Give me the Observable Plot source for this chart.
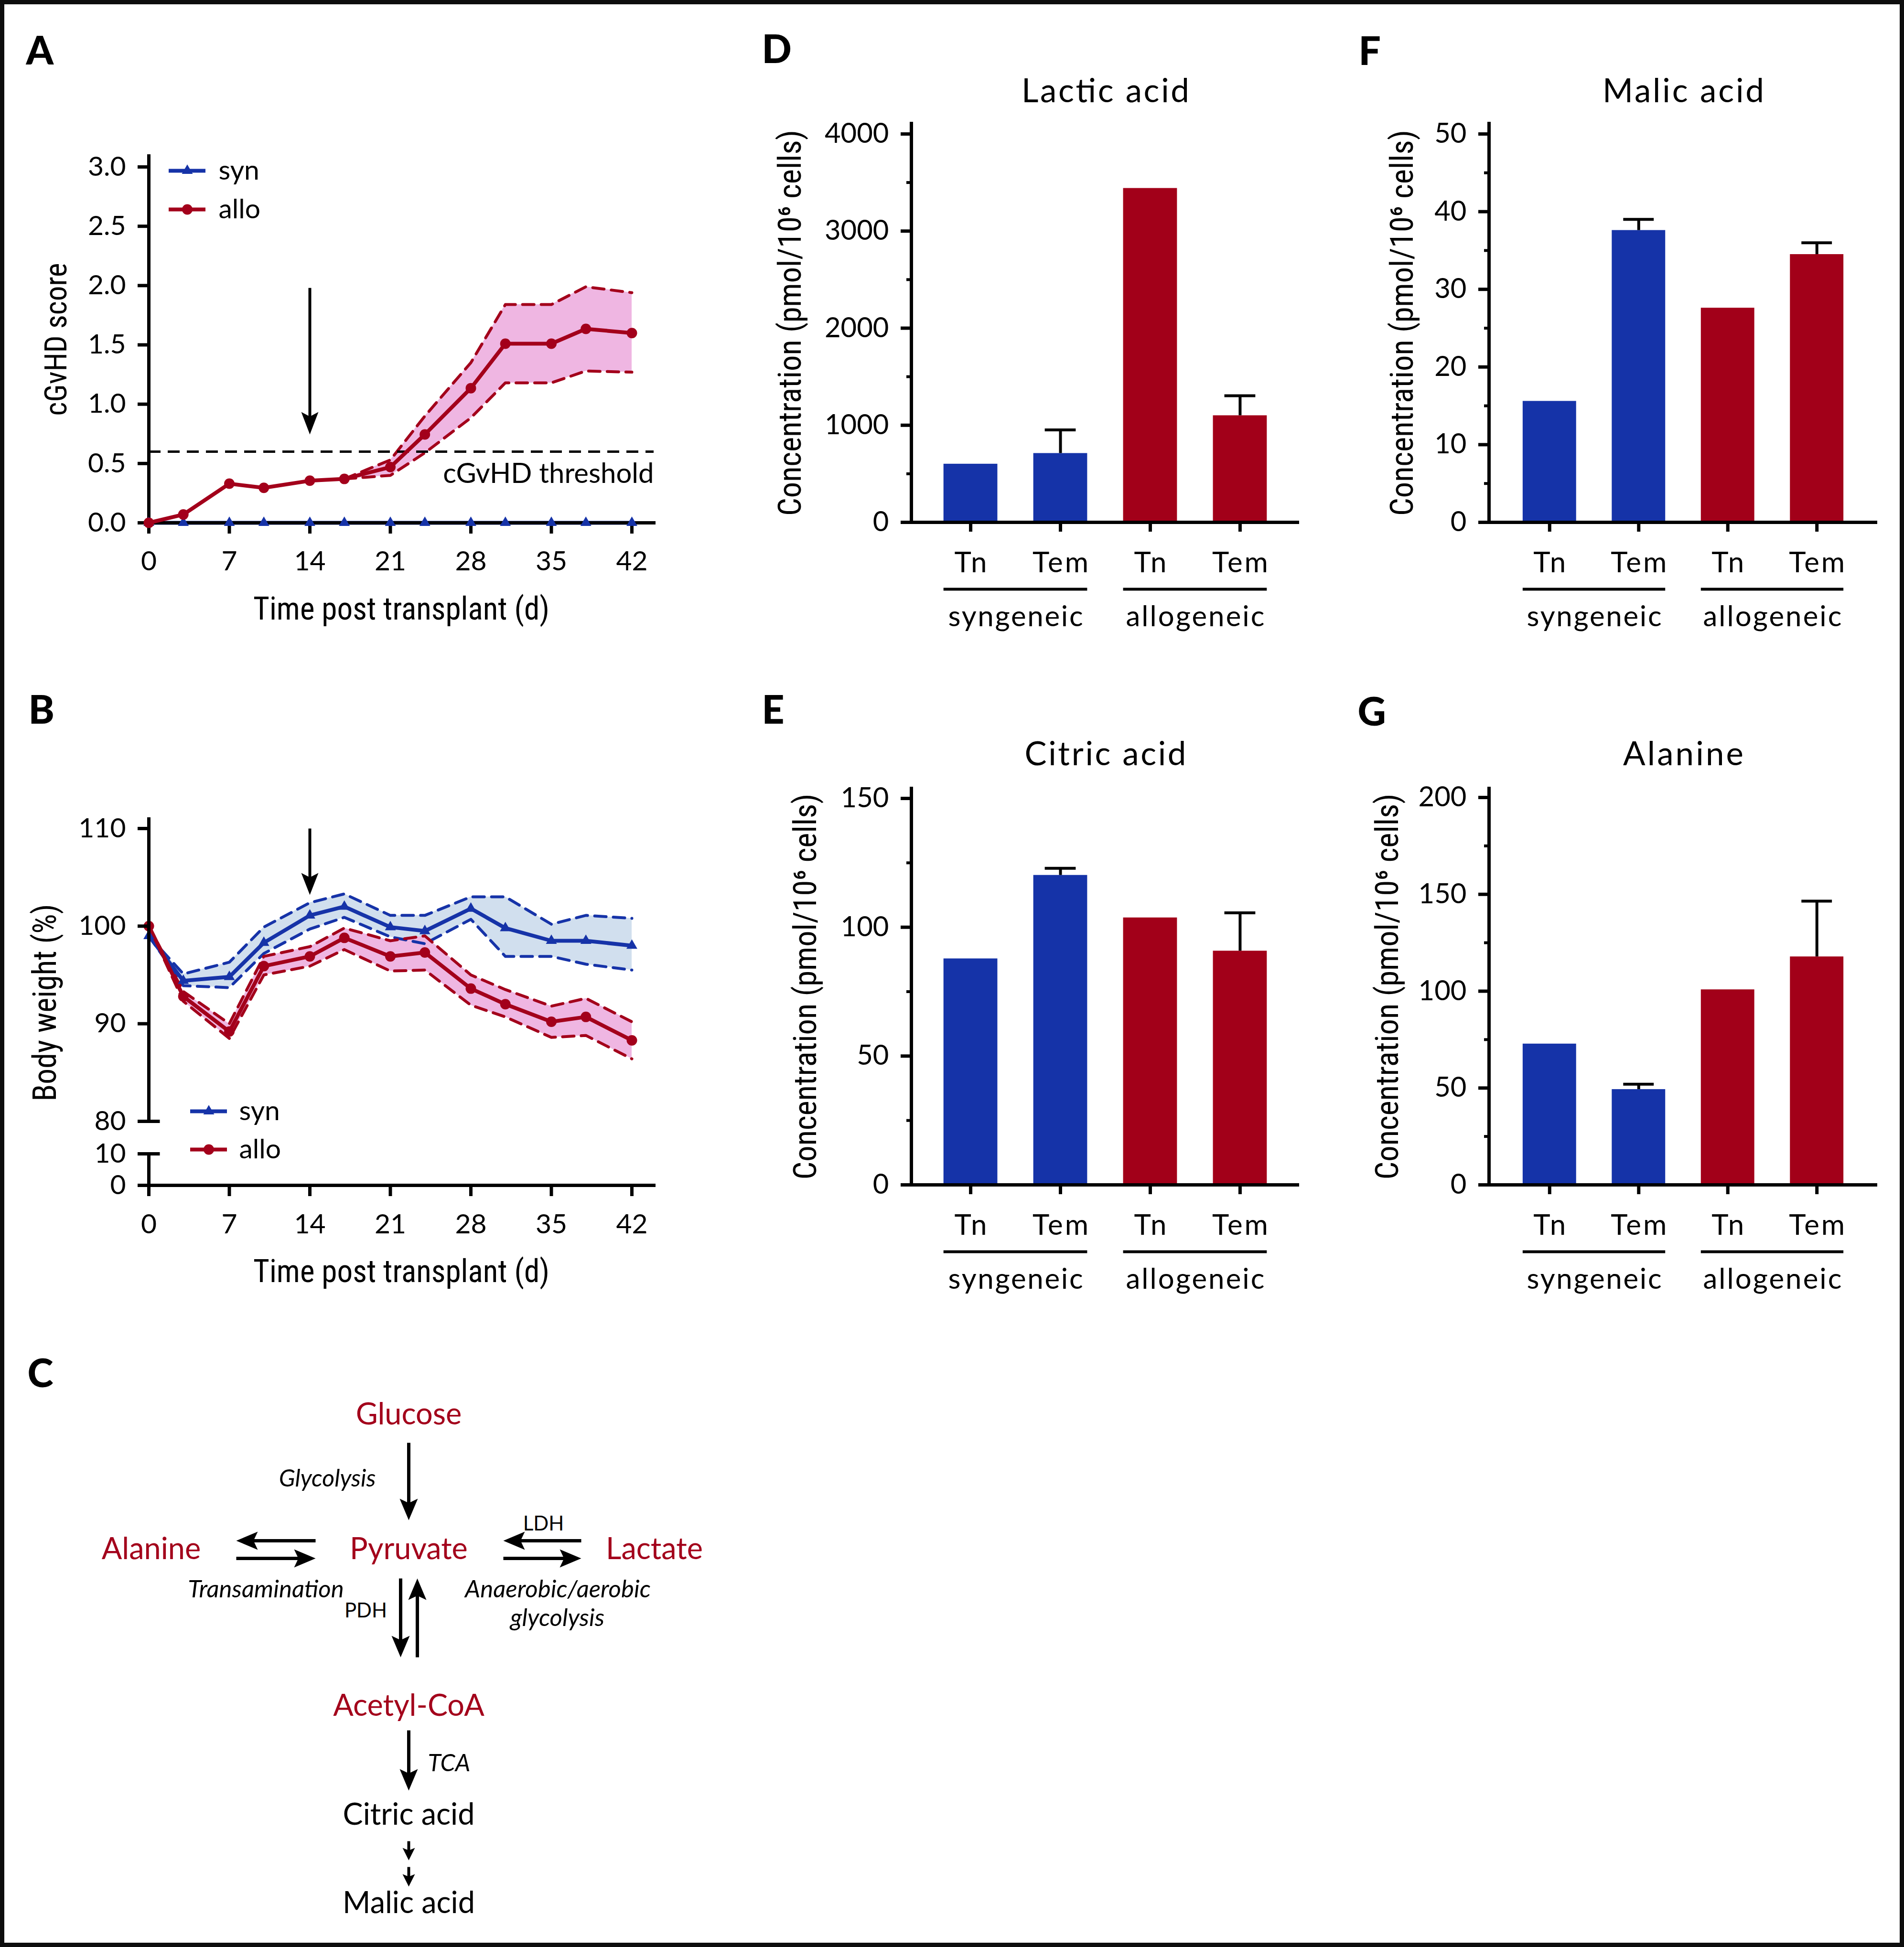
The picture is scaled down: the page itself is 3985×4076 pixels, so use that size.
<!DOCTYPE html>
<html>
<head>
<meta charset="utf-8">
<script src="https://cdn.jsdelivr.net/npm/d3@7"></script>
<script src="https://cdn.jsdelivr.net/npm/@observablehq/plot@0.6"></script>
<style>
html,body{margin:0;padding:0;background:#fff;}
#page{position:relative;width:3985px;height:4076px;overflow:hidden;background:#fff;}
#border{position:absolute;left:0;top:0;width:3985px;height:4076px;box-sizing:border-box;border:9px solid #0d0d0d;pointer-events:none;}
</style>
</head>
<body>
<div id="page"></div>
<script>
// ---------------- DATA ----------------
const days = [0, 3, 7, 10, 14, 17, 21, 24, 28, 31, 35, 38, 42];
const dayTicks = [0, 7, 14, 21, 28, 35, 42];

// Panel A: cGvHD score
const scoreSyn    = [0, 0, 0, 0, 0, 0, 0, 0, 0, 0, 0, 0, 0];
const scoreAllo   = [0, 0.07, 0.33, 0.295, 0.355, 0.37, 0.47, 0.745, 1.135, 1.51, 1.51, 1.635, 1.60];
const scoreAlloLo = [null, null, null, null, null, 0.37, 0.40, 0.59, 0.885, 1.18, 1.18, 1.28, 1.27];
const scoreAlloHi = [null, null, null, null, null, 0.37, 0.53, 0.90, 1.35, 1.84, 1.84, 1.99, 1.94];
const scoreTicks = [0, 0.5, 1, 1.5, 2, 2.5, 3];
const scoreThreshold = [{value: 0.6, label: "cGvHD threshold"}];
const scoreArrow = [{day: 14, from: 1.98, to: 0.745}];

// Panel B: body weight
const weightSyn    = [99.0, 94.4, 94.8, 98.3, 101.1, 102.0, 99.9, 99.5, 101.8, 99.8, 98.5, 98.5, 98.0];
const weightSynLo  = [99.0, 93.9, 93.7, 97.2, 99.7, 100.9, 98.9, 98.2, 100.7, 96.9, 96.9, 96.1, 95.5];
const weightSynHi  = [99.0, 95.1, 96.3, 99.9, 102.4, 103.3, 101.1, 101.1, 103.0, 103.0, 100.2, 101.1, 100.8];
const weightAllo   = [100, 92.8, 89.2, 95.9, 96.9, 98.8, 96.9, 97.3, 93.6, 92.0, 90.2, 90.7, 88.3];
const weightAlloLo = [100, 92.3, 88.5, 95.0, 95.9, 97.6, 95.4, 95.5, 91.9, 90.7, 88.6, 88.8, 86.4];
const weightAlloHi = [100, 93.3, 90.0, 96.9, 97.9, 99.8, 98.5, 99.0, 95.0, 93.5, 91.8, 92.6, 90.2];
const weightTicks = [0, 10, 80, 90, 100, 110];
const weightUpperDomain = [80, 110];   // broken axis: upper segment
const weightLowerDomain = [0, 10];     // broken axis: lower segment
const weightArrow = [{day: 14, from: 110, to: 103.2}];

const legendItems = [{label: "syn"}, {label: "allo"}];

// Panels D-G: metabolite concentrations
const cellTypes = ["Tn", "Tem", "Tn", "Tem"];
const groups = ["syngeneic", "syngeneic", "allogeneic", "allogeneic"];
const groupNames = ["syngeneic", "allogeneic"];
const lacticMean  = [601, 711, 3441, 1100];
const lacticSem   = [0, 241, 0, 204];
const citricMean  = [87.8, 120.2, 103.7, 90.8];
const citricSem   = [0, 2.7, 0, 14.8];
const malicMean   = [15.6, 37.6, 27.6, 34.5];
const malicSem    = [0, 1.4, 0, 1.5];
const alanineMean = [72.8, 49.3, 100.8, 117.8];
const alanineSem  = [0, 2.7, 0, 28.7];
const lacticTicks = [0, 1000, 2000, 3000, 4000], lacticMinor = [500, 1500, 2500, 3500];
const citricTicks = [0, 50, 100, 150], citricMinor = [25, 75, 125];
const malicTicks = [0, 10, 20, 30, 40, 50], malicMinor = [5, 15, 25, 35, 45];
const alanineTicks = [0, 50, 100, 150, 200], alanineMinor = [25, 75, 125, 175];
const concLabel = "Concentration (pmol/10\u2076 cells)";

// Panel C: pathway
const pathwayNodes = ["Glucose", "Alanine", "Pyruvate", "Lactate", "Acetyl-CoA", "Citric acid", "Malic acid"];
const highlightedNodes = ["Glucose", "Alanine", "Pyruvate", "Lactate", "Acetyl-CoA"];
const pathwayLabels = [
  {text: "Glycolysis", style: "italic"},
  {text: "LDH", style: "normal"},
  {text: "Transamination", style: "italic"},
  {text: "Anaerobic/aerobic", style: "italic"},
  {text: "glycolysis", style: "italic"},
  {text: "PDH", style: "normal"},
  {text: "TCA", style: "italic"}
];
const pathwayArrows = [
  {name: "glycolysis", dir: "down", size: "L"},
  {name: "toAlanine", dir: "left", size: "L"},
  {name: "fromAlanine", dir: "right", size: "L"},
  {name: "fromLactate", dir: "left", size: "L"},
  {name: "toLactate", dir: "right", size: "L"},
  {name: "pdh", dir: "down", size: "L"},
  {name: "reverse", dir: "up", size: "L"},
  {name: "tca", dir: "down", size: "L"},
  {name: "step1", dir: "down", size: "S"},
  {name: "step2", dir: "down", size: "S"}
];

// ---------------- LAYOUT / STYLE ----------------
const W = 3985, H = 4076;
const red = "#a3001b", blue = "#1633a8", pink = "#efb6e2", lightBlue = "#d1dfee";
const barBlue = "#1533a8", barRed = "#a20019";
const mainFont = "Lato, 'Noto Sans', sans-serif";
const condFont = "'Roboto Condensed','Liberation Sans Narrow','DejaVu Sans Condensed',Roboto,sans-serif";
const baseStyle = {background: "transparent", overflow: "visible", fontFamily: mainFont, maxWidth: "none"};
const dash = "24,15";
// text widths measured on the reference (condensed = squeezed glyphs, spaced = letter spacing)
const condensed = {
  "cGvHD score": 320,
  "Time post transplant (d)": 620,
  "Body weight (%)": 413,
  [concLabel]: 808
};
const spaced = {
  "Lactic acid": 351, "Malic acid": 338, "Citric acid": 338, "Alanine": 252,
  "syngeneic": 282, "allogeneic": 290, "Tn": 68, "Tem": 117
};
// diagram positions (pixels inside panel C)
const nodePos = {
  "Glucose": [855, 161], "Alanine": [316, 443], "Pyruvate": [855, 443], "Lactate": [1369, 443],
  "Acetyl-CoA": [855, 771], "Citric acid": [855, 999], "Malic acid": [855, 1184]
};
const labelPos = {
  "Glycolysis": [786, 295, "end", 50], "LDH": [1137, 390, "middle", 42],
  "Transamination": [556, 527, "middle", 51], "Anaerobic/aerobic": [1167, 527, "middle", 51],
  "glycolysis": [1166, 587, "middle", 51], "PDH": [765, 572, "middle", 42], "TCA": [895, 891, "start", 50]
};
const arrowPos = {
  glycolysis: [855, 220, 855, 382], toAlanine: [660, 425, 494, 425], fromAlanine: [494, 462, 660, 462],
  fromLactate: [1216, 425, 1053, 425], toLactate: [1053, 462, 1216, 462],
  pdh: [838, 504, 838, 669], reverse: [873, 669, 873, 504], tca: [855, 822, 855, 948],
  step1: [855, 1054, 855, 1094], step2: [855, 1108, 855, 1149]
};
const headSize = {L: {len: 45, wid: 38, shaft: 7}, S: {len: 26, wid: 26, shaft: 6}};

// ---------------- HELPERS ----------------
const page = document.getElementById("page");
function add(svg, fitSpaced = false) {
  svg.style.position = "absolute"; svg.style.left = "0px"; svg.style.top = "0px";
  d3.select(svg).selectAll("text").each(function () {
    const t = this.textContent;
    if (condensed[t]) { this.setAttribute("textLength", condensed[t]); this.setAttribute("lengthAdjust", "spacingAndGlyphs"); }
    else if (fitSpaced && spaced[t]) { this.setAttribute("textLength", spaced[t]); this.setAttribute("lengthAdjust", "spacing"); }
  });
  page.appendChild(svg);
}
function headSymbol(dir, len, wid) {
  const n = 0.8;
  const pts = [[0, 0], [-wid / 2, -len], [0, -len * n], [wid / 2, -len]];
  const rot = {down: p => p, up: ([x, y]) => [x, -y], right: ([x, y]) => [y, x], left: ([x, y]) => [-y, x]}[dir];
  const P = pts.map(rot);
  return {draw(ctx) { ctx.moveTo(P[0][0], P[0][1]); for (let i = 1; i < P.length; i++) ctx.lineTo(P[i][0], P[i][1]); ctx.closePath(); }};
}
const breakTick = {draw(ctx) { ctx.moveTo(-23, 0); ctx.lineTo(23, 0); }};
function letterMark(letter, x, y, frameLeft, frameTop) {
  return Plot.text([letter], {text: d => d, frameAnchor: "top-left", dx: x - frameLeft, dy: y - frameTop,
    textAnchor: "start", lineAnchor: "top", fontSize: 82, fontWeight: 900, fontFamily: mainFont});
}
function yTitle(text, dx, size, dy = 0) {
  return Plot.text([text], {text: d => d, frameAnchor: "left", dx, dy, rotate: -90, textAnchor: "middle",
    lineAnchor: "middle", fontSize: size, fontFamily: condFont});
}
function legend(x0, x1, ys, textDx) {
  return Plot.plot({
    width: W, height: H, margin: 0, style: baseStyle,
    x: {domain: [0, 1], range: [x0, x1], axis: null},
    y: {type: "point", padding: 0, domain: legendItems.map(d => d.label), range: ys, axis: null},
    color: {domain: ["syn", "allo"], range: [blue, red]},
    marks: [
      Plot.ruleY(legendItems, {y: "label", x1: 0, x2: 1, stroke: "label", strokeWidth: 8}),
      Plot.dot(legendItems.filter(d => d.label === "syn"), {x: 0.5, y: "label", symbol: "triangle", fill: "label", r: 8.5}),
      Plot.dot(legendItems.filter(d => d.label === "allo"), {x: 0.5, y: "label", fill: "label", r: 11}),
      Plot.text(legendItems, {x: 1, y: "label", text: "label", dx: textDx, textAnchor: "start", lineAnchor: "middle", fontSize: 57})
    ]
  });
}

// ---------------- PANEL A ----------------
const scoreRows = days.map((day, i) => ({day, syn: scoreSyn[i], allo: scoreAllo[i], lo: scoreAlloLo[i], hi: scoreAlloHi[i]}));
add(Plot.plot({
  width: W, height: H, marginLeft: 311, marginRight: W - 1368, marginTop: 326, marginBottom: H - 1094,
  style: baseStyle,
  x: {domain: [0, 42], insetRight: 46, axis: null},
  y: {domain: [0, 3], insetTop: 23, axis: null},
  marks: [
    Plot.areaY(scoreRows, {x: "day", y1: "lo", y2: "hi", fill: pink}),
    Plot.lineY(scoreRows, {x: "day", y: "lo", stroke: red, strokeWidth: 6, strokeDasharray: dash}),
    Plot.lineY(scoreRows, {x: "day", y: "hi", stroke: red, strokeWidth: 6, strokeDasharray: dash}),
    Plot.ruleY(scoreThreshold, {y: "value", stroke: "black", strokeWidth: 5, strokeDasharray: "25,15"}),
    Plot.text(scoreThreshold, {y: "value", text: "label", frameAnchor: "right", textAnchor: "end", lineAnchor: "top", dy: 24, fontSize: 58}),
    Plot.lineY(scoreRows, {x: "day", y: "syn", stroke: blue, strokeWidth: 8}),
    Plot.frame({anchor: "left", strokeWidth: 7}),
    Plot.frame({anchor: "bottom", strokeWidth: 7}),
    Plot.axisY({ticks: scoreTicks, tickFormat: d3.format(".1f"), tickSize: 23, tickPadding: 25, fontSize: 57, strokeWidth: 7, label: null}),
    Plot.axisX({ticks: dayTicks, tickSize: 23, tickPadding: 36, fontSize: 57, strokeWidth: 7, label: null}),
    Plot.dot(scoreRows, {x: "day", y: "syn", symbol: "triangle", fill: blue, r: 8.5}),
    Plot.lineY(scoreRows, {x: "day", y: "allo", stroke: red, strokeWidth: 8}),
    Plot.dot(scoreRows, {x: "day", y: "allo", fill: red, r: 11}),
    Plot.arrow(scoreArrow, {x1: "day", x2: "day", y1: "from", y2: "to", headLength: 0, insetEnd: 24, strokeWidth: 6, strokeLinecap: "butt"}),
    Plot.dot(scoreArrow, {x: "day", y: "to", symbol: headSymbol("down", 47, 36), fill: "black"}),
    Plot.text(["Time post transplant (d)"], {text: d => d, frameAnchor: "bottom", textAnchor: "middle", dy: 181, lineAnchor: "middle", fontSize: 66, fontFamily: condFont}),
    yTitle("cGvHD score", 118 - 311, 64),
    letterMark("A", 54, 76, 311, 326)
  ]
}));
add(legend(353, 430, [357, 438], 27));

// ---------------- PANEL B (broken y axis: two stacked plots) ----------------
const weightRows = days.map((day, i) => ({day, syn: weightSyn[i], synLo: weightSynLo[i], synHi: weightSynHi[i],
  allo: weightAllo[i], alloLo: weightAlloLo[i], alloHi: weightAlloHi[i]}));
const inDomain = (dom) => (v) => v >= dom[0] && v <= dom[1];
// upper segment (80-110): data
add(Plot.plot({
  width: W, height: H, marginLeft: 311, marginRight: W - 1368, marginTop: 1714, marginBottom: H - 2347,
  style: baseStyle,
  x: {domain: [0, 42], insetRight: 46, axis: null},
  y: {domain: weightUpperDomain, insetTop: 20, axis: null},
  marks: [
    Plot.areaY(weightRows, {x: "day", y1: "synLo", y2: "synHi", fill: lightBlue}),
    Plot.areaY(weightRows, {x: "day", y1: "alloLo", y2: "alloHi", fill: pink}),
    Plot.lineY(weightRows, {x: "day", y: "synLo", stroke: blue, strokeWidth: 6, strokeDasharray: dash}),
    Plot.lineY(weightRows, {x: "day", y: "synHi", stroke: blue, strokeWidth: 6, strokeDasharray: dash}),
    Plot.lineY(weightRows, {x: "day", y: "alloLo", stroke: red, strokeWidth: 6, strokeDasharray: dash}),
    Plot.lineY(weightRows, {x: "day", y: "alloHi", stroke: red, strokeWidth: 6, strokeDasharray: dash}),
    Plot.lineY(weightRows, {x: "day", y: "syn", stroke: blue, strokeWidth: 8}),
    Plot.lineY(weightRows, {x: "day", y: "allo", stroke: red, strokeWidth: 8}),
    Plot.dot(weightRows, {x: "day", y: "syn", symbol: "triangle", fill: blue, r: 8.5}),
    Plot.dot(weightRows, {x: "day", y: "allo", fill: red, r: 11}),
    Plot.frame({anchor: "left", strokeWidth: 7}),
    Plot.axisY({ticks: weightTicks.filter(inDomain(weightUpperDomain)), tickSize: 23, tickPadding: 25, fontSize: 57, strokeWidth: 7, label: null}),
    Plot.dot([weightUpperDomain[0]], {x: 0, y: d => d, symbol: breakTick, stroke: "black", strokeWidth: 7}),
    Plot.arrow(weightArrow, {x1: "day", x2: "day", y1: "from", y2: "to", headLength: 0, insetEnd: 24, strokeWidth: 6, strokeLinecap: "butt"}),
    Plot.dot(weightArrow, {x: "day", y: "to", symbol: headSymbol("down", 46, 36), fill: "black"}),
    yTitle("Body weight (%)", 95 - 311, 68, 68),
    letterMark("B", 59, 1456, 311, 1714)
  ]
}));
// lower segment (0-10): x axis
add(Plot.plot({
  width: W, height: H, marginLeft: 311, marginRight: W - 1368, marginTop: 2415, marginBottom: H - 2481,
  style: baseStyle,
  x: {domain: [0, 42], insetRight: 46, axis: null},
  y: {domain: weightLowerDomain, axis: null},
  marks: [
    Plot.frame({anchor: "left", strokeWidth: 7}),
    Plot.frame({anchor: "bottom", strokeWidth: 7}),
    Plot.axisY({ticks: weightTicks.filter(inDomain(weightLowerDomain)), tickSize: 23, tickPadding: 25, fontSize: 57, strokeWidth: 7, label: null}),
    Plot.dot([weightLowerDomain[1]], {x: 0, y: d => d, symbol: breakTick, stroke: "black", strokeWidth: 7}),
    Plot.axisX({ticks: dayTicks, tickSize: 23, tickPadding: 37, fontSize: 57, strokeWidth: 7, label: null}),
    Plot.text(["Time post transplant (d)"], {text: d => d, frameAnchor: "bottom", textAnchor: "middle", dy: 181, lineAnchor: "middle", fontSize: 66, fontFamily: condFont})
  ]
}));
add(legend(398, 475, [2326, 2406], 25));

// ---------------- PANEL C ----------------
const nodeRows = pathwayNodes.map(name => ({name, x: nodePos[name][0], y: nodePos[name][1],
  kind: highlightedNodes.includes(name) ? "highlighted" : "plain"}));
const labelRows = pathwayLabels.map(d => ({...d, x: labelPos[d.text][0], y: labelPos[d.text][1], anchor: labelPos[d.text][2], size: labelPos[d.text][3]}));
const arrowRows = pathwayArrows.map(d => {
  const [x1, y1, x2, y2] = arrowPos[d.name];
  return {...d, x1, y1, x2, y2};
});
const cMarks = [];
for (const size of ["L", "S"]) {
  const hs = headSize[size];
  const rows = arrowRows.filter(d => d.size === size);
  cMarks.push(Plot.arrow(rows, {x1: "x1", y1: "y1", x2: "x2", y2: "y2", headLength: 0, insetEnd: hs.len * 0.5, strokeWidth: hs.shaft, strokeLinecap: "butt"}));
  for (const dir of ["up", "down", "left", "right"]) {
    const r = rows.filter(d => d.dir === dir);
    if (r.length) cMarks.push(Plot.dot(r, {x: "x2", y: "y2", symbol: headSymbol(dir, hs.len, hs.wid), fill: "black"}));
  }
}
for (const row of labelRows) {
  cMarks.push(Plot.text([row], {x: "x", y: "y", text: "text", textAnchor: row.anchor, lineAnchor: "middle", fontStyle: row.style, fontSize: row.size}));
}
cMarks.push(Plot.text(nodeRows, {x: "x", y: "y", text: "name", fill: "kind", lineAnchor: "middle", fontSize: 63}));
cMarks.push(letterMark("C", 57, 2845, 0, 2800));
add(Plot.plot({
  width: W, height: H, marginLeft: 0, marginRight: W - 1550, marginTop: 2800, marginBottom: 0,
  style: baseStyle,
  x: {domain: [0, 1550], range: [0, 1550], axis: null},
  y: {domain: [0, 1276], range: [2800, 4076], axis: null},
  color: {domain: ["highlighted", "plain"], range: [red, "black"]},
  marks: cMarks
}));

// ---------------- PANELS D-G ----------------
const barPanels = [
  {letter: "D", title: "Lactic acid", mean: lacticMean, sem: lacticSem, max: 4000, ticks: lacticTicks, minor: lacticMinor,
   L: {left: 1907, right: 2719, top: 258, yTop: 280, bottom: 1093, po: 0.36, titleY: 191, yTitleX: 1654, lx: 1594, ly: 73}},
  {letter: "E", title: "Citric acid", mean: citricMean, sem: citricSem, max: 150, ticks: citricTicks, minor: citricMinor,
   L: {left: 1907, right: 2719, top: 1650, yTop: 1671, bottom: 2480, po: 0.36, titleY: 1579, yTitleX: 1686, lx: 1594, ly: 1456}},
  {letter: "F", title: "Malic acid", mean: malicMean, sem: malicSem, max: 50, ticks: malicTicks, minor: malicMinor,
   L: {left: 3116, right: 3929, top: 258, yTop: 280, bottom: 1093, po: 0.38, titleY: 191, yTitleX: 2935, lx: 2843, ly: 77}},
  {letter: "G", title: "Alanine", mean: alanineMean, sem: alanineSem, max: 200, ticks: alanineTicks, minor: alanineMinor,
   L: {left: 3116, right: 3929, top: 1650, yTop: 1669, bottom: 2480, po: 0.38, titleY: 1579, yTitleX: 2904, lx: 2841, ly: 1460}}
];
for (const cfg of barPanels) {
  const L = cfg.L;
  const rows = cellTypes.map((t, i) => ({key: groups[i] + " " + t, type: t, group: groups[i], mean: cfg.mean[i], sem: cfg.sem[i]}));
  const keys = rows.map(d => d.key);
  const xOpts = {type: "band", domain: keys, paddingInner: 0.4, paddingOuter: L.po, align: 0.5, round: false};
  const xs = Plot.scale({x: {...xOpts, range: [L.left, L.right]}});
  const spans = groupNames.map(g => ({name: g, first: keys[groups.indexOf(g)], last: keys[groups.lastIndexOf(g)]}));
  const errs = rows.filter(d => d.sem > 0).map(d => ({...d, top: d.mean + d.sem}));
  add(Plot.plot({
    width: W, height: H, marginLeft: L.left, marginRight: W - L.right, marginTop: L.top, marginBottom: H - L.bottom,
    style: baseStyle,
    x: {...xOpts, axis: null},
    y: {domain: [0, cfg.max], insetTop: L.yTop - L.top, axis: null},
    color: {domain: groupNames, range: [barBlue, barRed]},
    marks: [
      Plot.barY(rows, {x: "key", y: "mean", fill: "group"}),
      Plot.ruleX(errs, {x: "key", y1: "mean", y2: "top", strokeWidth: 6}),
      Plot.tickY(errs, {x: "key", y: "top", insetLeft: 24, insetRight: 24, strokeWidth: 6}),
      Plot.frame({anchor: "left", strokeWidth: 7}),
      Plot.ruleY([0], {strokeWidth: 7}),
      Plot.axisY({ticks: cfg.ticks, tickFormat: d3.format("d"), tickSize: 22, tickPadding: 25, fontSize: 58, strokeWidth: 7, label: null}),
      Plot.axisY({ticks: cfg.minor, tickSize: 10, tickFormat: () => "", strokeWidth: 6, label: null}),
      Plot.axisX({tickSize: 20, tickPadding: 42, fontSize: 60, strokeWidth: 7, tickFormat: k => k.split(" ")[1], label: null}),
      Plot.ruleY(spans, {x1: "first", x2: "last", y: 0, dy: 140, strokeWidth: 6}),
      Plot.text(spans, {x: "first", y: 0, dx: xs.step / 2, dy: 198, text: "name", lineAnchor: "middle", fontSize: 60}),
      Plot.text([cfg.title], {text: d => d, frameAnchor: "top", textAnchor: "middle", dy: L.titleY - L.top, lineAnchor: "middle", fontSize: 69}),
      yTitle(concLabel, L.yTitleX - L.left, 66),
      letterMark(cfg.letter, L.lx, L.ly, L.left, L.top)
    ]
  }), true);
}

const border = document.createElement("div");
border.id = "border";
page.appendChild(border);
</script>
</body>
</html>
